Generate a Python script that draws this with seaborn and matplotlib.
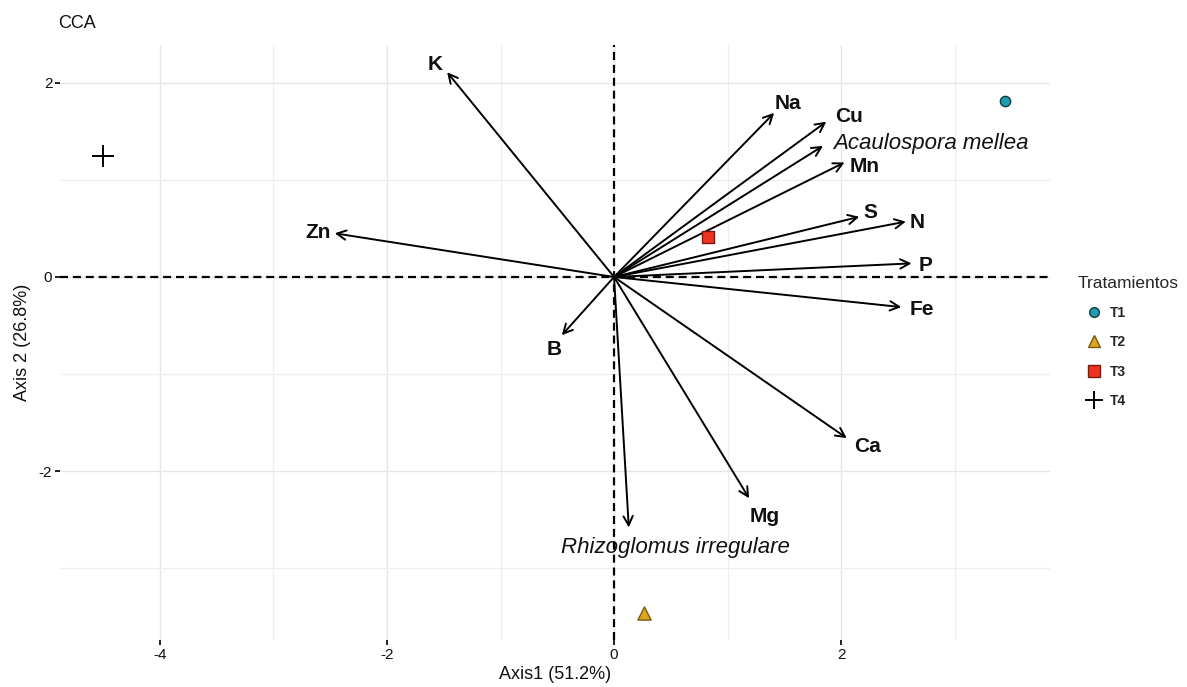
import matplotlib
matplotlib.use("Agg")
import matplotlib.pyplot as plt
from matplotlib.lines import Line2D
import seaborn as sns
import pandas as pd

# ---- data ----
treatments = ["T1", "T2", "T3", "T4"]
site_x = [3.44, 0.26, 0.83, -4.50]
site_y = [1.81, -3.46, 0.41, 1.25]

env_names = ["K", "Na", "Cu", "Mn", "S", "N", "P", "Fe", "Ca", "Mg", "B", "Zn"]
env_x = [-1.47, 1.41, 1.87, 2.03, 2.16, 2.57, 2.62, 2.53, 2.05, 1.19, -0.46, -2.46]
env_y = [2.11, 1.69, 1.60, 1.18, 0.62, 0.57, 0.14, -0.31, -1.66, -2.28, -0.60, 0.45]
env_lab_x = [-1.58, 1.53, 2.07, 2.21, 2.26, 2.67, 2.74, 2.71, 2.23, 1.33, -0.53, -2.61]
env_lab_y = [2.19, 1.79, 1.65, 1.14, 0.66, 0.56, 0.12, -0.34, -1.75, -2.47, -0.75, 0.46]

sp_names = ["Acaulospora mellea", "Rhizoglomus irregulare"]
sp_x = [1.84, 0.13]
sp_y = [1.35, -2.58]
sp_lab_x = [2.79, 0.54]
sp_lab_y = [1.38, -2.79]

xticks = [-4, -2, 0, 2]
yticks = [-2, 0, 2]

# ---- style ----
sns.set_theme(style="white")
plt.rcParams["font.family"] = ["Liberation Sans", "DejaVu Sans"]
plt.rcParams["axes.unicode_minus"] = False

colors = {"T1": "#1E9DB0", "T2": "#DDA520", "T3": "#EE3322", "T4": "black"}
edges = {"T1": "#123A40", "T2": "#7A5A10", "T3": "#7A1A10", "T4": "black"}
markers = {"T1": "o", "T2": "^", "T3": "s", "T4": "+"}
sizes = {"T1": 55, "T2": 90, "T3": 80, "T4": 230}

fig = plt.figure(figsize=(11.87, 6.87), dpi=100)
ax = fig.add_axes([60/1187, 1-640/687, 990/1187, 595/687])

ax.set_xlim(-4.88, 3.84)
ax.set_ylim(-3.74, 2.39)
ax.set_xticks(xticks)
ax.set_yticks(yticks)
ax.set_xticks([-3, -1, 1, 3], minor=True)
ax.set_yticks([-3, -1, 1], minor=True)
ax.grid(True, which="major", color="#E6E6E6", lw=1.0)
ax.grid(True, which="minor", color="#EEEEEE", lw=0.9)
ax.set_axisbelow(True)
for s in ax.spines.values():
    s.set_visible(False)
ax.tick_params(which="major", bottom=True, left=True, length=3.5, width=1.4,
               color="#222222", labelsize=11, labelcolor="#111111", pad=2)
ax.tick_params(which="minor", bottom=False, left=False, length=0)

ax.axhline(0, color="black", lw=1.6, ls=(0, (3.6, 2.2)), zorder=1)
ax.axvline(0, color="black", lw=1.6, ls=(0, (3.6, 2.2)), zorder=1)

# arrows
arrowprops = dict(arrowstyle="->,head_length=0.55,head_width=0.28", lw=1.4,
                  color="black", shrinkA=0, shrinkB=0)
for n, x, y, lx, ly in zip(env_names, env_x, env_y, env_lab_x, env_lab_y):
    ax.annotate("", xy=(x, y), xytext=(0, 0), arrowprops=arrowprops, zorder=2)
    ax.text(lx, ly, n, ha="center", va="center", fontsize=15,
            fontweight="bold", color="#111111", zorder=3)
for n, x, y, lx, ly in zip(sp_names, sp_x, sp_y, sp_lab_x, sp_lab_y):
    ax.annotate("", xy=(x, y), xytext=(0, 0), arrowprops=arrowprops, zorder=2)
    ax.text(lx, ly, n, ha="center", va="center", fontsize=16,
            fontstyle="italic", color="#111111", zorder=3)

# sites
df = pd.DataFrame({"Tratamiento": treatments, "x": site_x, "y": site_y})
for t in treatments:
    sub = df[df["Tratamiento"] == t]
    if markers[t] == "+":
        sns.scatterplot(data=sub, x="x", y="y", marker="+", color=colors[t],
                        s=sizes[t], linewidth=1.4, legend=False, ax=ax, zorder=4)
    else:
        sns.scatterplot(data=sub, x="x", y="y", marker=markers[t], color=colors[t],
                        edgecolor=edges[t], s=sizes[t], linewidth=1.0,
                        legend=False, ax=ax, zorder=4)

ax.set_xlabel("Axis1 (51.2%)", fontsize=13, color="#111111", labelpad=3)
ax.set_ylabel("Axis 2 (26.8%)", fontsize=13, color="#111111", labelpad=6)
fig.text(58/1187, 1-23/687, "CCA", fontsize=13, color="#111111",
         ha="left", va="center")

# legend
handles = []
for t in treatments:
    if markers[t] == "+":
        h = Line2D([], [], marker="+", color="black", ls="", markersize=13,
                   markeredgewidth=1.4)
    else:
        h = Line2D([], [], marker=markers[t], color=colors[t], ls="",
                   markeredgecolor=edges[t], markeredgewidth=1.0,
                   markersize={"o": 7, "^": 9, "s": 8}[markers[t]])
    handles.append(h)
leg = fig.legend(handles, treatments, title="Tratamientos", loc="upper left",
                 bbox_to_anchor=(1068/1187, 1-266/687), frameon=False,
                 fontsize=10, title_fontsize=12.5, labelspacing=1.1,
                 handletextpad=-0.1, handlelength=2.4, alignment="left",
                 borderaxespad=0.3)
for txt in leg.get_texts():
    txt.set_fontweight("bold")

fig.savefig("out.png", dpi=100)
